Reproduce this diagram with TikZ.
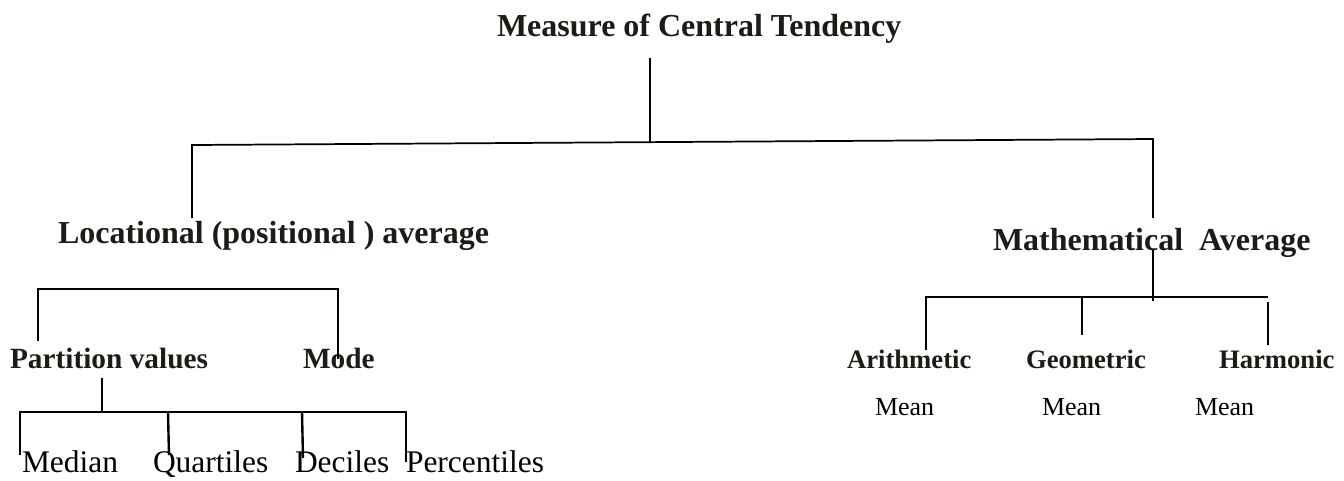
\documentclass[tikz,border=0pt]{standalone}
\usepackage{fontspec}
\setmainfont{Liberation Serif}
\definecolor{inkdark}{RGB}{30,27,22}
\begin{document}
\begin{tikzpicture}[x=0.75pt,y=-0.75pt,
  lbl/.style={anchor=base west,inner sep=0pt,outer sep=0pt,text=inkdark},
  hA/.style={lbl,font=\fontsize{24}{28}\selectfont\bfseries},
  hB/.style={lbl,font=\fontsize{22}{26}\selectfont\bfseries},
  hC/.style={lbl,font=\fontsize{20}{24}\selectfont\bfseries},
  leafA/.style={lbl,text=black,font=\fontsize{23.6}{28}\selectfont},
  leafB/.style={lbl,text=black,font=\fontsize{19.5}{24}\selectfont},
  conn/.style={draw=black,line width=1.3pt},
  connB/.style={draw=black,line width=1.8pt}]
\useasboundingbox (0,0) rectangle (1344,480);
% texts
\node[hA] (title) at (497,36) {Measure of Central Tendency};
\node[hA] (loc) at (58,243) {Locational (positional ) average};
\node[hA] (math) at (993,250) {Mathematical\ \ Average};
\node[hB] (part) at (10,368) {Partition values};
\node[hB] (mode) at (303,368) {Mode};
\node[hC] (arith) at (847,368) {Arithmetic};
\node[hC] (geom) at (1026,368) {Geometric};
\node[hC] (harm) at (1219,368) {Harmonic};
\node[leafB] (mean1) at (875,415) {Mean};
\node[leafB] (mean2) at (1042,415) {Mean};
\node[leafB] (mean3) at (1195,415) {Mean};
\node[leafA] (median) at (22,472) {Median};
\node[leafA] (quart) at (153,472) {Quartiles};
\node[leafA] (dec) at (295,472) {Deciles};
\node[leafA] (perc) at (406,472) {Percentiles};
% top tree
\coordinate (tA) at (650,58);
\coordinate (tB) at (650,142);
\coordinate (tL) at (192,145);
\coordinate (tR) at (1153,139);
\coordinate (tLd) at (192,218);
\coordinate (tRd) at (1153,218);
\draw[conn] (tA) -- (tB);
\draw[conn] (tLd) -- (tL) -- (tR) -- (tRd);
% mathematical subtree
\coordinate (mA) at (1153,250);
\coordinate (mB) at (1153,301);
\coordinate (mL) at (926,297);
\coordinate (mR) at (1268,297);
\coordinate (mLd) at (926,350);
\coordinate (mG) at (1082,297);
\coordinate (mGd) at (1082,335);
\coordinate (mRt) at (1268,302);
\coordinate (mRd) at (1268,345);
\draw[connB] (mA) -- (mB);
\draw[connB] (mLd) -- (mL) -- (mR);
\draw[connB] (mG) -- (mGd);
\draw[connB] (mRt) -- (mRd);
% locational subtree
\coordinate (lL) at (38,289);
\coordinate (lR) at (338,289);
\coordinate (lLd) at (38,341);
\coordinate (lRd) at (338,359);
\draw[connB] (lLd) -- (lL) -- (lR) -- (lRd);
% partition subtree
\coordinate (pA) at (102,378);
\coordinate (pB) at (102,412);
\coordinate (pL) at (20,412);
\coordinate (pR) at (406,412);
\coordinate (pLd) at (20,455);
\coordinate (pQ) at (168,412);
\coordinate (pQd) at (169,455);
\coordinate (pD) at (302,412);
\coordinate (pDd) at (303,458);
\coordinate (pRd) at (406,462);
\draw[connB] (pA) -- (pB);
\draw[connB] (pLd) -- (pL) -- (pR) -- (pRd);
\draw[connB] (pQ) -- (pQd);
\draw[connB] (pD) -- (pDd);
\end{tikzpicture}
\end{document}
